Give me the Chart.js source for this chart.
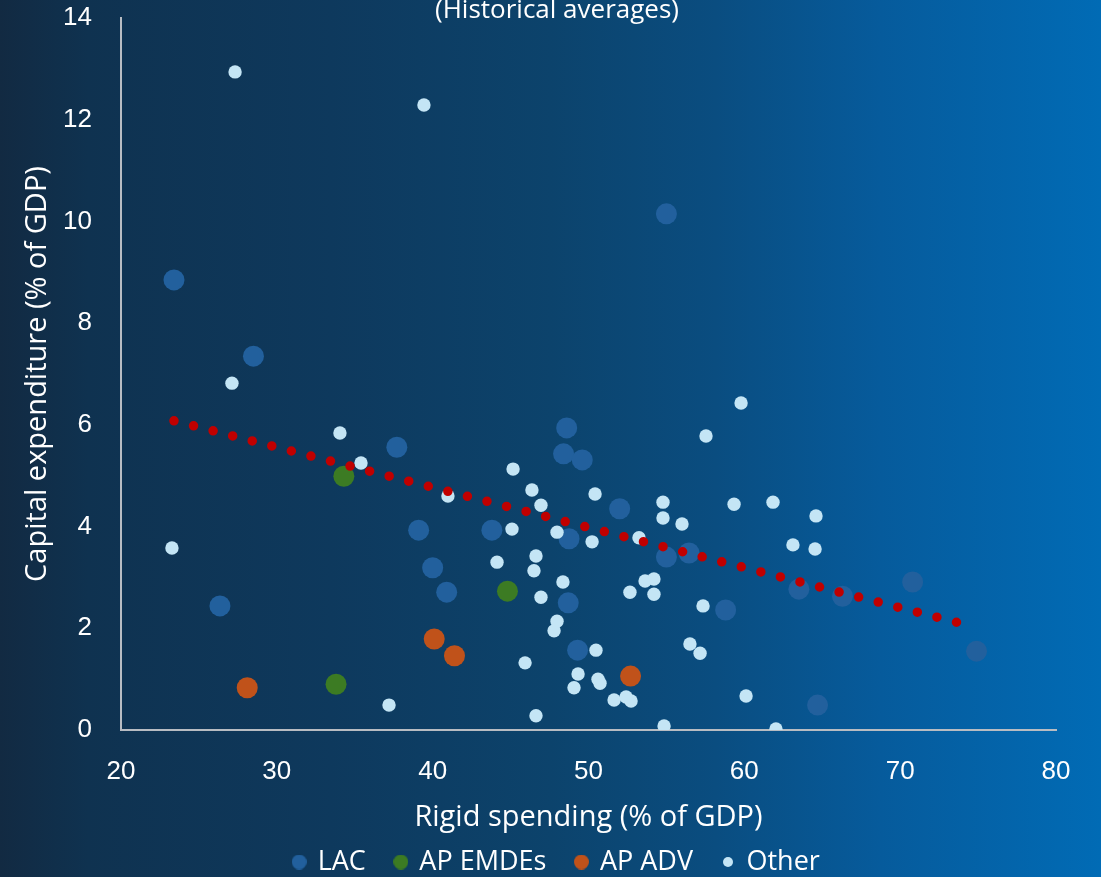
<!DOCTYPE html>
<html>
<head>
<meta charset="utf-8">
<script src="https://cdn.jsdelivr.net/npm/chart.js@4.4.1/dist/chart.umd.min.js"></script>
<style>
  html, body { margin: 0; padding: 0; background: #0d3a5e; }
  #wrap { width: 1101px; height: 877px; position: relative; }
</style>
</head>
<body>
<div id="wrap"><canvas id="chart"></canvas></div>
<script>
// Rigid spending (x, % of GDP) vs capital expenditure (y, % of GDP), historical averages
const lacX = [23.4, 28.5, 26.35, 37.7, 39.1, 40.0, 40.9, 43.8, 48.6, 48.4, 49.6, 48.75, 48.7, 49.3, 52.0, 55.0, 55.0, 56.45, 58.8, 63.5, 66.3, 70.8, 74.9, 64.7];
const lacY = [8.85, 7.35, 2.44, 5.56, 3.93, 3.19, 2.71, 3.93, 5.94, 5.43, 5.31, 3.76, 2.50, 1.57, 4.35, 10.15, 3.40, 3.48, 2.36, 2.77, 2.63, 2.91, 1.55, 0.49];

const emdeX = [34.3, 44.8, 33.8];
const emdeY = [4.99, 2.73, 0.90];

const advX = [28.1, 40.1, 41.4, 52.7];
const advY = [0.83, 1.79, 1.46, 1.06];

const otherX = [27.32, 39.44, 27.12, 34.05, 35.40, 40.98, 23.27, 44.13, 45.16, 46.37, 46.95, 45.09, 47.98, 50.42, 50.23, 53.24, 54.78, 54.78, 56.0, 57.54, 59.79, 59.34, 61.84, 64.60, 63.12, 64.54, 46.63, 46.50, 48.36, 53.63, 54.2, 52.66, 54.2, 46.95, 57.35, 47.98, 47.79, 45.93, 50.48, 56.51, 57.16, 49.33, 49.07, 50.61, 50.74, 51.64, 52.41, 52.73, 60.11, 37.2, 46.63, 54.85, 62.03];
const otherY = [12.94, 12.29, 6.82, 5.84, 5.25, 4.60, 3.58, 3.30, 5.13, 4.72, 4.42, 3.95, 3.89, 4.64, 3.70, 3.78, 4.48, 4.17, 4.05, 5.78, 6.43, 4.44, 4.48, 4.21, 3.64, 3.56, 3.42, 3.13, 2.91, 2.93, 2.97, 2.71, 2.67, 2.61, 2.44, 2.14, 1.95, 1.32, 1.57, 1.69, 1.51, 1.10, 0.83, 1.00, 0.92, 0.59, 0.65, 0.57, 0.67, 0.49, 0.28, 0.08, 0.02];

// Linear trend endpoints
const trendX = [23.4, 73.85];
const trendY = [6.08, 2.10];

const xTicks = [20, 30, 40, 50, 60, 70, 80];
const yTicks = [0, 2, 4, 6, 8, 10, 12, 14];

const seriesNames = ['LAC', 'AP EMDEs', 'AP ADV', 'Other'];
const seriesColors = ['#22609d', '#3c7b23', '#c0521a', '#c4e5f5'];
const markerRadius = [10.5, 10.5, 10.5, 6.7];
const legendDot = [15, 15, 15, 10];

const toPoints = (xs, ys) => xs.map((x, i) => ({ x: x, y: ys[i] }));

const fontFamily = '"Open Sans", "Noto Sans", sans-serif';
const subtitleFont = { family: fontFamily, size: 26, weight: 'normal' };
const axisTitleFont = { family: fontFamily, size: 29, weight: 'normal' };
const legendFont = { family: fontFamily, size: 27, weight: 'normal' };
const tickFont = { family: '"Liberation Sans", Arial, sans-serif', size: 26 };

// Small round swatches for the legend (different sizes per series)
function swatch(color, diameter) {
  const c = document.createElement('canvas');
  c.width = diameter;
  c.height = diameter;
  const g = c.getContext('2d');
  g.fillStyle = color;
  g.beginPath();
  g.arc(diameter / 2, diameter / 2, diameter / 2, 0, Math.PI * 2);
  g.fill();
  return c;
}
const legendSwatches = seriesColors.map((c, i) => swatch(c, legendDot[i]));

const backdrop = {
  id: 'backdrop',
  beforeDraw(chart) {
    const { ctx, width, height } = chart;
    const g = ctx.createLinearGradient(0, 0, width, 0);
    g.addColorStop(0.00, '#122a42');
    g.addColorStop(0.08, '#0f3250');
    g.addColorStop(0.30, '#0e395d');
    g.addColorStop(0.50, '#0c436c');
    g.addColorStop(0.65, '#0a4d80');
    g.addColorStop(0.80, '#065b9c');
    g.addColorStop(1.00, '#016bb5');
    ctx.save();
    ctx.fillStyle = g;
    ctx.fillRect(0, 0, width, height);
    ctx.restore();
  }
};

const scatterSet = (i, xs, ys, order) => ({
  type: 'scatter',
  label: seriesNames[i],
  data: toPoints(xs, ys),
  backgroundColor: seriesColors[i],
  borderColor: seriesColors[i],
  borderWidth: 0,
  pointRadius: markerRadius[i],
  pointHoverRadius: markerRadius[i],
  pointStyle: 'circle',
  order: order
});

const defaultLabels = Chart.defaults.plugins.legend.labels.generateLabels;

new Chart(document.getElementById('chart'), {
  type: 'scatter',
  data: {
    datasets: [
      scatterSet(0, lacX, lacY, 4),
      scatterSet(1, emdeX, emdeY, 3),
      scatterSet(2, advX, advY, 2),
      scatterSet(3, otherX, otherY, 1),
      {
        type: 'line',
        label: 'Trend',
        data: toPoints(trendX, trendY),
        showLine: true,
        borderColor: '#c00000',
        borderWidth: 9.5,
        borderDash: [0, 20.2],
        borderCapStyle: 'round',
        pointRadius: 0,
        fill: false,
        order: 0
      }
    ]
  },
  options: {
    responsive: true,
    maintainAspectRatio: false,
    animation: false,
    events: [],
    layout: { padding: { left: 58, right: 45, top: 0, bottom: -8.5 } },
    plugins: {
      title: {
        display: true,
        text: '(Historical averages)',
        color: '#ffffff',
        font: subtitleFont,
        padding: { top: -4.6, bottom: -8.6 }
      },
      legend: {
        display: true,
        position: 'bottom',
        labels: {
          color: '#ffffff',
          font: legendFont,
          usePointStyle: true,
          boxWidth: 10,
          boxHeight: 10,
          padding: 30,
          generateLabels: chart => defaultLabels(chart)
            .filter(item => item.datasetIndex < seriesNames.length)
            .map(item => Object.assign(item, { pointStyle: legendSwatches[item.datasetIndex] })),
          sort: (a, b) => a.datasetIndex - b.datasetIndex
        }
      },
      tooltip: { enabled: false }
    },
    scales: {
      x: {
        type: 'linear',
        min: xTicks[0],
        max: xTicks[xTicks.length - 1],
        afterBuildTicks: s => { s.ticks = xTicks.map(v => ({ value: v })); },
        grid: { display: false, drawTicks: false },
        border: { display: true, color: '#b8bcc2', width: 2 },
        ticks: { color: '#ffffff', font: tickFont, padding: 26.4 },
        title: {
          display: true,
          text: 'Rigid spending (% of GDP)',
          color: '#ffffff',
          font: axisTitleFont,
          padding: { top: -13.4, bottom: -16.9 }
        }
      },
      y: {
        type: 'linear',
        min: yTicks[0],
        max: yTicks[yTicks.length - 1],
        afterBuildTicks: s => { s.ticks = yTicks.map(v => ({ value: v })); },
        afterFit: s => { s.width = 63; },
        grid: { display: false, drawTicks: true, tickLength: 29 },
        border: { display: true, color: '#b8bcc2', width: 2 },
        ticks: { color: '#ffffff', font: tickFont, padding: 0 },
        title: {
          display: true,
          text: 'Capital expenditure (% of GDP)',
          color: '#ffffff',
          font: axisTitleFont,
          padding: { top: -37.4, bottom: 0 }
        }
      }
    }
  },
  plugins: [backdrop]
});
</script>
</body>
</html>
